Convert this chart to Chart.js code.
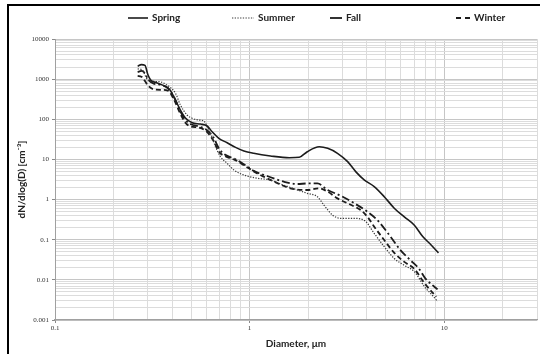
<!DOCTYPE html>
<html><head><meta charset="utf-8">
<script src="https://cdn.jsdelivr.net/npm/chart.js@4"></script>
<style>
html,body{margin:0;padding:0;background:#fff;overflow:hidden}
#wrap{position:absolute;left:0;top:0;width:540px;height:354px}
#frame{position:absolute;left:7px;top:4px;width:600px;height:400px;border-left:2px solid #000;border-top:2px solid #000;pointer-events:none}
</style></head><body>
<div id="wrap"><canvas id="c" width="540" height="354"></canvas><div id="frame"></div></div>
<script>
// ---- data (diameter in µm, dN/dlog(D) in cm^-3) ----
const seriesNames = ['Spring', 'Summer', 'Fall', 'Winter'];

const springD = [0.266, 0.278, 0.29, 0.30, 0.31, 0.33, 0.36, 0.39, 0.416, 0.441, 0.468, 0.507, 0.559, 0.605, 0.642, 0.695, 0.767, 0.847, 0.935, 1.05, 1.28, 1.6, 1.8, 1.98, 2.28, 2.52, 2.83, 3.19, 3.52, 3.88, 4.37, 4.92, 5.54, 6.24, 7.03, 7.76, 8.57, 9.35];
const springN = [2100, 2300, 2200, 1300, 950, 820, 700, 540, 300, 170, 108, 82, 76, 68, 49, 33.6, 26, 20, 16.2, 14.2, 12.2, 11.0, 11.3, 15.6, 20.7, 18.9, 14.2, 8.8, 4.9, 3.1, 2.1, 1.18, 0.61, 0.37, 0.23, 0.12, 0.074, 0.047];

const summerD = [0.266, 0.28, 0.30, 0.32, 0.35, 0.37, 0.416, 0.441, 0.477, 0.507, 0.547, 0.58, 0.61, 0.64, 0.668, 0.709, 0.767, 0.83, 0.935, 1.095, 1.28, 1.44, 1.62, 1.98, 2.23, 2.41, 2.67, 2.96, 3.45, 3.9, 4.37, 4.92, 5.54, 6.24, 7.03, 7.92, 8.74, 9.25];
const summerN = [1800, 1700, 950, 880, 850, 750, 444, 227, 128, 106, 96, 92, 62, 37, 20.7, 11.7, 8.0, 5.45, 4.09, 3.39, 3.07, 2.44, 2.0, 1.43, 1.18, 0.73, 0.41, 0.34, 0.34, 0.30, 0.144, 0.067, 0.034, 0.023, 0.016, 0.0068, 0.004, 0.0029];

const fallD = [0.266, 0.278, 0.29, 0.30, 0.32, 0.35, 0.38, 0.41, 0.44, 0.47, 0.50, 0.55, 0.60, 0.65, 0.70, 0.75, 0.85, 0.95, 1.05, 1.23, 1.5, 1.76, 1.98, 2.23, 2.52, 2.96, 3.45, 4.03, 4.53, 5.3, 5.96, 6.7, 7.4, 8.0, 9.25];
const fallN = [1500, 1600, 1400, 1000, 780, 720, 600, 350, 160, 95, 75, 66, 55, 36, 18, 13, 10, 7.2, 5.2, 3.87, 2.79, 2.44, 2.52, 2.52, 1.73, 1.23, 0.81, 0.50, 0.31, 0.119, 0.055, 0.031, 0.0194, 0.0109, 0.0058];

const winterD = [0.266, 0.278, 0.29, 0.30, 0.32, 0.35, 0.38, 0.41, 0.44, 0.47, 0.50, 0.55, 0.60, 0.65, 0.70, 0.75, 0.85, 0.95, 1.095, 1.34, 1.62, 1.98, 2.28, 2.52, 2.83, 3.33, 3.72, 4.03, 4.37, 4.92, 5.54, 6.24, 7.03, 7.92, 9.1];
const winterN = [1200, 1150, 900, 700, 560, 540, 520, 300, 140, 80, 66, 62, 50, 30, 15, 12, 9.5, 6.8, 4.5, 2.79, 1.91, 1.73, 1.91, 1.57, 1.07, 0.73, 0.55, 0.374, 0.211, 0.098, 0.047, 0.028, 0.0186, 0.0083, 0.0038];

// ---- axis ticks ----
const xTickLabels = ['0.1', '1', '10'];
const yTickLabels = ['0.001', '0.01', '0.1', '1', '10', '100', '1000', '10000'];
const minorMultipliers = [2, 3, 4, 5, 6, 7, 8, 9];
const xMin = 0.1, xMax = 30, yMin = 0.001, yMax = 10000;

function pairs(d, n) { return d.map((x, i) => ({ x: x, y: n[i] })); }

function buildTicks(labels, min, max) {
  const out = [];
  labels.forEach(l => {
    const v = Number(l);
    if (v >= min && v <= max) out.push({ value: v, major: true });
    minorMultipliers.forEach(m => {
      const mv = Number((v * m).toPrecision(6));
      if (mv > min && mv <= max) out.push({ value: mv, major: false });
    });
  });
  out.sort((a, b) => a.value - b.value);
  return out;
}
function labelFor(labels, v) {
  const l = labels.find(s => Math.abs(Number(s) - v) / v < 1e-6);
  return l === undefined ? '' : l;
}

const styles = [
  { color: '#1c1c1c', width: 1.6, dash: [] },
  { color: '#3a3a3a', width: 1.2, dash: [1.3, 1.4] },
  { color: '#1c1c1c', width: 1.8, dash: [8, 3, 2, 3] },
  { color: '#1c1c1c', width: 1.8, dash: [5, 3] }
];
const allData = [pairs(springD, springN), pairs(summerD, summerN), pairs(fallD, fallN), pairs(winterD, winterN)];

const datasets = seriesNames.map((name, i) => ({
  label: name,
  data: allData[i],
  borderColor: styles[i].color,
  borderWidth: styles[i].width,
  borderDash: styles[i].dash,
  pointRadius: 0,
  fill: false,
  tension: 0.4,
  cubicInterpolationMode: 'monotone'
}));

const legendPlugin = {
  id: 'customLegend',
  afterDraw(chart) {
    const ctx = chart.ctx;
    const pos = [[128, 20], [232, 22], [330, 12], [456, 14]];
    const y = 18;
    ctx.save();
    ctx.font = 'bold 10px Lato, "Open Sans", sans-serif';
    ctx.textBaseline = 'middle';
    ctx.fillStyle = '#222';
    chart.data.datasets.forEach((ds, i) => {
      const [x0, w] = pos[i];
      ctx.beginPath();
      ctx.strokeStyle = ds.borderColor;
      ctx.lineWidth = ds.borderWidth;
      ctx.setLineDash(i === 3 ? [5, 4] : (i === 2 ? [] : ds.borderDash));
      ctx.moveTo(x0, y);
      ctx.lineTo(x0 + w, y);
      ctx.stroke();
      ctx.setLineDash([]);
      ctx.fillText(ds.label, x0 + w + 4, y);
    });
    ctx.restore();
  }
};

const gridColor = c => (c.tick && c.tick.major) ? '#c6c6c6' : '#dcdcdc';
const tickMarkColor = c => (c.tick && c.tick.major) ? '#8a8a8a' : 'rgba(0,0,0,0)';

new Chart(document.getElementById('c'), {
  type: 'line',
  data: { datasets: datasets },
  options: {
    responsive: false,
    animation: false,
    devicePixelRatio: 1,
    layout: { padding: { left: 0, right: 3, top: 39, bottom: 0 } },
    plugins: { legend: { display: false }, tooltip: { enabled: false } },
    scales: {
      x: {
        type: 'logarithmic',
        min: xMin, max: xMax,
        afterBuildTicks: s => { s.ticks = buildTicks(xTickLabels, xMin, xMax); },
        afterFit: s => { s.height = 34; },
        ticks: {
          autoSkip: false, maxRotation: 0, padding: 1,
          font: { family: '"Liberation Serif", "DejaVu Serif", serif', size: 7 },
          color: '#333',
          callback: v => labelFor(xTickLabels, v)
        },
        grid: { color: gridColor, tickColor: tickMarkColor, tickLength: 3, lineWidth: 1 },
        border: { color: '#a0a0a0', width: 1.2 },
        title: {
          display: true, text: 'Diameter, μm',
          font: { family: 'Lato, "Open Sans", sans-serif', size: 10, weight: 'bold' },
          color: '#222', padding: { top: 0, bottom: 4 }
        }
      },
      y: {
        type: 'logarithmic',
        min: yMin, max: yMax,
        afterBuildTicks: s => { s.ticks = buildTicks(yTickLabels, yMin, yMax); },
        afterFit: s => { s.width = 55; },
        ticks: {
          autoSkip: false, padding: 3,
          font: { family: '"Liberation Serif", "DejaVu Serif", serif', size: 7 },
          color: '#333',
          callback: v => labelFor(yTickLabels, v)
        },
        grid: { color: gridColor, tickColor: tickMarkColor, tickLength: 3, lineWidth: 1 },
        border: { color: '#a0a0a0', width: 1 },
        title: {
          display: true, text: 'dN/dlog(D) [cm⁻³]',
          font: { family: 'Lato, "Open Sans", sans-serif', size: 10, weight: 'bold' },
          color: '#222', padding: { top: 16, bottom: 0 }
        }
      }
    }
  },
  plugins: [legendPlugin]
});
</script>
</body></html>
